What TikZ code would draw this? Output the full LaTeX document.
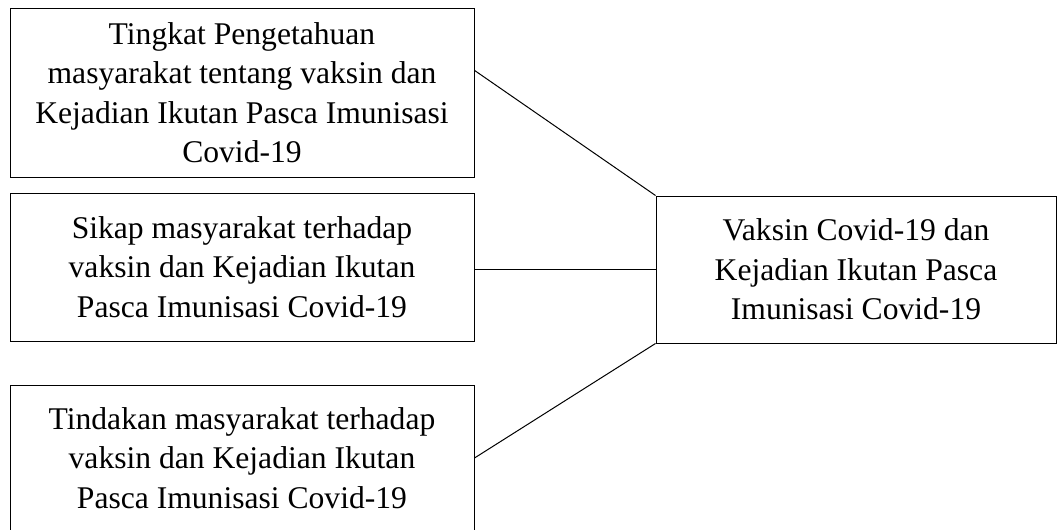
\documentclass[tikz,border=0pt]{standalone}
\usepackage{fontspec}
\setmainfont{Liberation Serif}
\usepackage{tikz}
\usetikzlibrary{calc,positioning}
\definecolor{ink}{RGB}{0,0,0}
\tikzset{
  kotak/.style={draw=ink,line width=1pt,rectangle,inner sep=0pt,align=center,
    font=\fontsize{31.6}{39.5}\selectfont},
  garis/.style={draw=ink,line width=1pt},
}

\begin{document}
\begin{tikzpicture}[x=1pt,y=-1pt]
  \useasboundingbox (0,0) rectangle (1058,530);
  % variabel independen
  \node[kotak,minimum width=464pt,minimum height=169pt] (tahu) at (242,92.5)
     {Tingkat Pengetahuan\\masyarakat tentang vaksin dan\\Kejadian Ikutan Pasca Imunisasi\\Covid-19};
  \node[kotak,minimum width=464pt,minimum height=148pt] (sikap) at (242,267)
     {Sikap masyarakat terhadap\\vaksin dan Kejadian Ikutan\\Pasca Imunisasi Covid-19};
  \node[kotak,minimum width=464pt,minimum height=146pt] (tindak) at (242,458)
     {Tindakan masyarakat terhadap\\vaksin dan Kejadian Ikutan\\Pasca Imunisasi Covid-19};
  % variabel dependen
  \node[kotak,minimum width=400pt,minimum height=147pt] (vaksin) at (856,269.5)
     {Vaksin Covid-19 dan\\Kejadian Ikutan Pasca\\Imunisasi Covid-19};
  \draw[garis] ($(tahu.north east)!0.37!(tahu.south east)$) -- (vaksin.north west);
  \draw[garis] (sikap.east |- vaksin.west) -- (vaksin.west);
  \draw[garis] (tindak.east) -- (vaksin.south west);
\end{tikzpicture}
\end{document}
